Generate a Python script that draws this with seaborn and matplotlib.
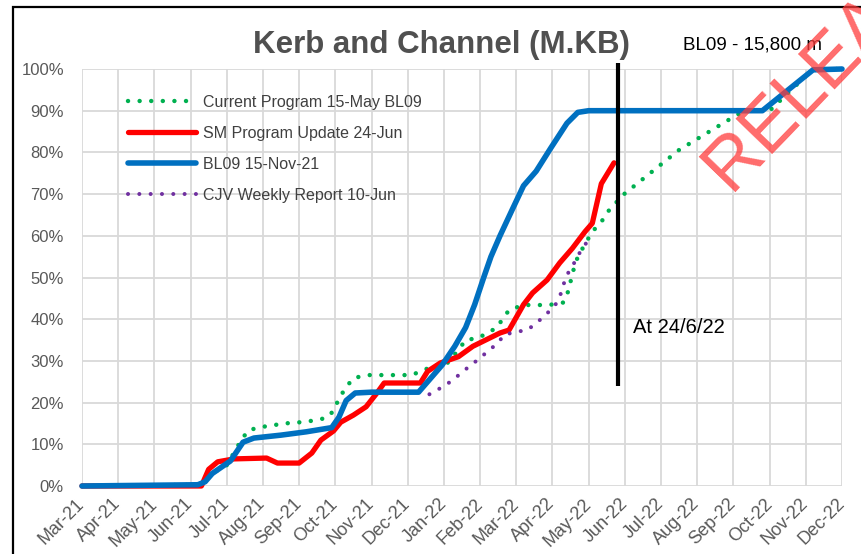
import matplotlib
matplotlib.use("Agg")
import matplotlib.pyplot as plt
import seaborn as sns
import pandas as pd
from matplotlib.patches import Rectangle

# Eixo x: meses contados a partir da linha de grade de Mar-21
MONTHS = ['Mar-21', 'Apr-21', 'May-21', 'Jun-21', 'Jul-21', 'Aug-21', 'Sep-21',
          'Oct-21', 'Nov-21', 'Dec-21', 'Jan-22', 'Feb-22', 'Mar-22', 'Apr-22',
          'May-22', 'Jun-22', 'Jul-22', 'Aug-22', 'Sep-22', 'Oct-22', 'Nov-22',
          'Dec-22']

CURRENT_X = [0, 3.2, 3.6, 4.0, 4.4, 4.6, 5.0, 5.6, 6.2, 6.75, 6.95, 7.1, 7.3, 7.5,
             7.9, 9.1, 9.45, 9.75, 10.05, 10.4, 10.6, 10.95, 11.45, 11.8, 12.2,
             12.9, 13.3, 13.45, 13.55, 13.7, 14.1, 14.35, 14.5, 14.95, 16.5, 18.0,
             18.3, 19.0, 20.2, 21]
CURRENT_Y = [0, 0.3, 3, 5, 11, 13.4, 14.2, 15, 15.4, 16.3, 18, 21, 23.7, 25.9,
             26.6, 26.6, 27.8, 29, 29, 32.6, 35, 35.5, 37.9, 42.2, 43.4,
             43.4, 44, 47, 51, 55, 61, 63.3, 65.5, 69.8, 80.6, 88.5,
             90, 90, 100, 100]

SM_X = [0, 3.3, 3.5, 3.75, 4.2, 5.1, 5.4, 6.0, 6.35, 6.6, 6.95, 7.15, 7.5, 7.85,
        8.15, 8.35, 9.35, 9.55, 9.9, 10.4, 10.8, 11.55, 11.8, 12.2, 12.45, 12.85,
        13.2, 13.55, 13.9, 14.1, 14.35, 14.7]
SM_Y = [0, 0, 4, 5.8, 6.5, 6.7, 5.5, 5.5, 7.9, 11, 13.2, 15.3, 17, 19,
        22.3, 24.7, 24.7, 27.5, 29.5, 31, 33.5, 36.7, 37.4, 43.5, 46.3, 49.4,
        53.5, 57, 61, 63, 72.5, 77.5]

BL09_X = [0, 3.2, 3.4, 3.6, 4.1, 4.45, 4.75, 5.5, 6.2, 6.9, 7.1, 7.3, 7.55, 8.0,
          9.3, 9.6, 9.95, 10.3, 10.6, 10.85, 11.1, 11.3, 11.55, 11.9, 12.2, 12.55,
          12.95, 13.4, 13.7, 14.0, 18.8, 20.2, 21]
BL09_Y = [0, 0.3, 1, 3, 6, 10.5, 11.5, 12.2, 13, 14, 16.5, 20.5, 22.3, 22.5,
          22.5, 25.5, 29, 33.5, 38, 43.5, 50, 55, 60, 66.5, 72, 75.5,
          81, 87, 89.6, 90, 90, 99.8, 100]

CJV_X = [9.6, 9.95, 10.25, 10.5, 10.75, 11.0, 11.25, 11.5, 11.65, 11.95, 12.3,
         12.55, 12.8, 13.05, 13.2, 13.3, 13.4, 13.6, 13.75, 13.95, 14.1]
CJV_Y = [22, 23.7, 25.4, 27.3, 29, 30.7, 32.6, 34.3, 36.2, 36.9, 37.4,
         39, 41, 43, 45.3, 48.2, 50.6, 53.5, 55.9, 58.5, 60.2]

# 24/6/22 fica logo antes da linha de Jun-22
AT_X = 14.8
AT_SPAN = (24, 101.5)

SERIES = [
    ('Current Program 15-May BL09', CURRENT_X, CURRENT_Y),
    ('SM Program Update 24-Jun', SM_X, SM_Y),
    ('BL09 15-Nov-21', BL09_X, BL09_Y),
    ('CJV Weekly Report 10-Jun', CJV_X, CJV_Y),
]

STYLES = {
    'Current Program 15-May BL09': dict(color='#00B050', lw=3.2, ls=(0, (0.01, 2.6)), zorder=2),
    'SM Program Update 24-Jun': dict(color='#FF0000', lw=3.8, ls='-', zorder=3),
    'BL09 15-Nov-21': dict(color='#0070C0', lw=4.0, ls='-', zorder=4),
    'CJV Weekly Report 10-Jun': dict(color='#7030A0', lw=2.9, ls=(0, (0.01, 2.8)), zorder=5),
}

df = pd.concat([pd.DataFrame({'month': xs, 'pct': ys, 'serie': name})
                for name, xs, ys in SERIES], ignore_index=True)

sns.set_theme(style="white")
plt.rcParams['font.family'] = ['Liberation Sans', 'DejaVu Sans']

fig = plt.figure(figsize=(8.61, 5.54), dpi=100)
ax = fig.add_axes([82 / 861, 68 / 554, 760 / 861, 417 / 554])

for name, _, _ in SERIES:
    st = STYLES[name]
    sns.lineplot(data=df[df['serie'] == name], x='month', y='pct', sort=False,
                 color=st['color'], linewidth=st['lw'], linestyle=st['ls'],
                 dash_capstyle='round', solid_capstyle='round',
                 zorder=st['zorder'], label=name, ax=ax, clip_on=False)

ax.vlines(AT_X, *AT_SPAN, color='black', lw=3, zorder=6, clip_on=False)

ax.set_xlim(0, len(MONTHS) - 1)
ax.set_ylim(0, 100)
ax.set_xticks(range(len(MONTHS)))
ax.set_xticklabels(MONTHS, rotation=45, ha='right', va='center',
                   rotation_mode='anchor', fontsize=13, color='#595959')
ax.set_yticks(range(0, 101, 10))
ax.set_yticklabels([f'{v}%' for v in range(0, 101, 10)], fontsize=12, color='#595959')
ax.tick_params(axis='x', length=0, pad=11)
ax.tick_params(axis='y', length=0, pad=13)
ax.grid(True, color='#d9d9d9', lw=1.3)
ax.set_axisbelow(True)
for s in ax.spines.values():
    s.set_visible(False)
ax.set_xlabel('')
ax.set_ylabel('')

handles, labels = ax.get_legend_handles_labels()
ax.legend(handles, labels, loc='upper left', bbox_to_anchor=(0.041, 0.972),
          frameon=False, fontsize=11.5, handlelength=4.3, handletextpad=0.45,
          labelspacing=1.0, labelcolor='#404040')

fig.text(441 / 861, 1 - 53 / 554, 'Kerb and Channel (M.KB)', ha='center',
         va='baseline', fontsize=22.5, fontweight='bold', color='#505050')
fig.text(683 / 861, 1 - 50 / 554, 'BL09 - 15,800 m', ha='left', va='baseline',
         fontsize=13.5, color='black')
ax.text(AT_X + 0.42, 36.8, 'At 24/6/22', ha='left', va='baseline',
        fontsize=14.5, color='black')

# marca d'agua cortada na borda
fig.text(730 / 861, 1 - 192 / 554, 'RELEASED', rotation=46, rotation_mode='anchor',
         ha='left', va='baseline', fontsize=53, color='#ff3b3b', alpha=0.75, zorder=10)

# moldura externa
fig.add_artist(Rectangle((13 / 861, -0.5), 2, 1.5 - 7 / 554, transform=fig.transFigure,
                         fill=False, ec='black', lw=1.6))

fig.savefig('out.png', dpi=100)
